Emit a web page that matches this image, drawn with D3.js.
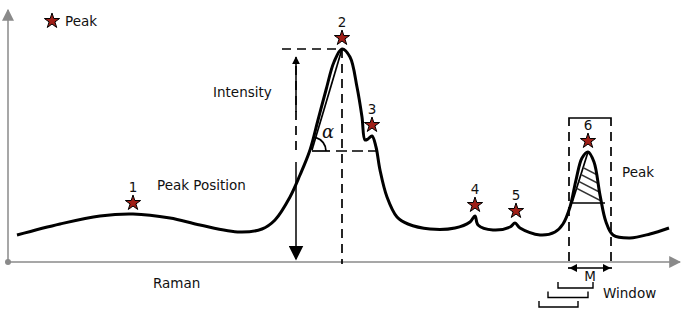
<!DOCTYPE html>
<html>
<head>
<meta charset="utf-8">
<script src="https://cdn.jsdelivr.net/npm/d3@7"></script>
<style>
  body { margin: 0; background: #fff; }
  text { font-family: "DejaVu Sans", sans-serif; font-size: 13.5px; fill: #111; }
</style>
</head>
<body>
<div id="chart"></div>
<script>
// spectrum trace: Raman shift (a.u.) vs intensity (a.u.)
const ramanShift = [9, 52, 92, 125, 162, 192, 232, 254, 267, 282, 292, 302, 310, 318, 326, 334, 342, 349, 354, 357, 360, 364, 368, 372, 379, 389, 400, 422, 447, 462, 467, 470, 485, 502, 507, 512, 532, 547, 555, 562, 568, 574, 580, 586, 592, 598, 605, 622, 642, 661];
const intensity  = [27, 38, 46, 48, 44, 37, 30, 33, 42, 65, 87, 112, 142, 172, 200, 213, 205, 175, 145, 122, 123, 126, 115, 92, 65, 45, 38, 33, 34, 40, 46, 37, 32, 35, 39, 34, 27, 30, 38, 55, 82, 104, 110, 100, 67, 40, 27, 24, 28, 34];

// detected peaks
const peakLabels = ["1", "2", "3", "4", "5", "6"];
const peakShift = [125, 334, 364, 467, 508, 580];
const peakIntensity = [48, 213, 126, 46, 40, 110];

// annotations (data units)
const tangentFoot = [304, 112];          // where the slope line meets the half-height level
const halfLevel = 111;
const windowPeak = [561, 603];           // dashed window around peak 6
const windowTop = 144;
const hatchBase = 59;
const hatchLeft = 564, hatchRight = 593;
const windowSteps = [[550, 585], [540, 580], [531, 570]];

const width = 685, height = 312;
const svg = d3.select("#chart").append("svg")
  .attr("width", width).attr("height", height);

const x = d3.scaleLinear().domain([0, 672]).range([8, 680]);
const y = d3.scaleLinear().domain([0, 250]).range([262, 12]);

const defs = svg.append("defs");
const marker = (id, size, color) => defs.append("marker")
  .attr("id", id).attr("viewBox", "0 0 10 10").attr("refX", 9).attr("refY", 5)
  .attr("markerWidth", size).attr("markerHeight", size).attr("orient", "auto-start-reverse")
  .attr("markerUnits", "userSpaceOnUse")
  .append("path").attr("d", "M0,0 L10,5 L0,10 Z").attr("fill", color);
marker("axisArrow", 12, "#8a8a8a");
marker("smallArrow", 8, "#000");
marker("bigArrow", 15, "#000");

// axes
svg.append("line")
  .attr("x1", x(0)).attr("y1", y(0)).attr("x2", x(672)).attr("y2", y(0))
  .attr("stroke", "#8a8a8a").attr("stroke-width", 1.5).attr("marker-end", "url(#axisArrow)");
svg.append("line")
  .attr("x1", x(0)).attr("y1", y(0)).attr("x2", x(0)).attr("y2", y(250) - 2)
  .attr("stroke", "#8a8a8a").attr("stroke-width", 1.5).attr("marker-end", "url(#axisArrow)");
svg.append("circle").attr("cx", x(0)).attr("cy", y(0)).attr("r", 3).attr("fill", "#8a8a8a");

const dash = "9,6";
const ann = svg.append("g").attr("fill", "none").attr("stroke", "#000").attr("stroke-width", 1.7);

// peak 2: intensity annotation
const p2 = [peakShift[1], peakIntensity[1]];
ann.append("line").attr("x1", x(274)).attr("x2", x(p2[0]))
  .attr("y1", y(p2[1])).attr("y2", y(p2[1])).attr("stroke-dasharray", dash);
ann.append("line").attr("x1", x(p2[0])).attr("x2", x(p2[0]))
  .attr("y1", y(p2[1])).attr("y2", y(0) + 2).attr("stroke-dasharray", dash);
ann.append("line").attr("x1", x(288)).attr("x2", x(288))
  .attr("y1", y(150)).attr("y2", y(205)).attr("stroke-width", 1.5).attr("marker-end", "url(#smallArrow)");
ann.append("line").attr("x1", x(288)).attr("x2", x(288))
  .attr("y1", y(196)).attr("y2", y(110)).attr("stroke-dasharray", dash);
ann.append("line").attr("x1", x(288)).attr("x2", x(288))
  .attr("y1", y(100)).attr("y2", y(3)).attr("stroke-width", 1.5).attr("marker-end", "url(#bigArrow)");

// slope (alpha) construction
ann.append("line").attr("x1", x(tangentFoot[0])).attr("y1", y(tangentFoot[1]))
  .attr("x2", x(p2[0])).attr("y2", y(p2[1]));
ann.append("line").attr("x1", x(tangentFoot[0])).attr("x2", x(322))
  .attr("y1", y(halfLevel)).attr("y2", y(halfLevel));
ann.append("line").attr("x1", x(328)).attr("x2", x(368))
  .attr("y1", y(halfLevel)).attr("y2", y(halfLevel)).attr("stroke-dasharray", "11,5");
const ang = Math.atan2(y(tangentFoot[1]) - y(p2[1]), x(p2[0]) - x(tangentFoot[0]));
ann.append("path")
  .attr("transform", `translate(${x(tangentFoot[0])},${y(halfLevel)})`)
  .attr("d", d3.arc().innerRadius(14).outerRadius(14)
    .startAngle(Math.PI / 2 - ang).endAngle(Math.PI / 2)());
svg.append("text").attr("x", x(tangentFoot[0]) + 10).attr("y", y(halfLevel) - 13)
  .style("font-family", "'DejaVu Serif', serif").style("font-style", "italic").style("font-size", "18px")
  .text("α");

// peak 6 window
ann.append("path").attr("d", `M${x(windowPeak[0])},${y(windowTop) + 8}V${y(windowTop)}H${x(windowPeak[1])}V${y(windowTop) + 8}`);
windowPeak.forEach(v => {
  ann.append("line").attr("x1", x(v)).attr("x2", x(v))
    .attr("y1", y(windowTop) + 14).attr("y2", y(0) + 7).attr("stroke-dasharray", dash);
});
ann.append("line").attr("x1", x(windowPeak[0]) + 1).attr("x2", x(windowPeak[1]) - 1)
  .attr("y1", y(0) + 6).attr("y2", y(0) + 6).attr("stroke-width", 1.3)
  .attr("marker-start", "url(#smallArrow)").attr("marker-end", "url(#smallArrow)");

// hatched triangle under peak 6
const p6 = [peakShift[5], peakIntensity[5]];
const rightSide = ramanShift.map((r, i) => [r, intensity[i]])
  .filter(d => d[0] > p6[0] && d[1] > hatchBase);
const hatchPoly = [[hatchLeft, hatchBase], p6, ...rightSide, [hatchRight, hatchBase]];
defs.append("clipPath").attr("id", "hatchClip").append("path")
  .attr("d", d3.line().x(d => x(d[0])).y(d => y(d[1]))(hatchPoly) + "Z");
const hatch = svg.append("g").attr("clip-path", "url(#hatchClip)");
d3.range(4).forEach(i => {
  const yy = y(hatchBase) - 9 - i * 8;
  hatch.append("line").attr("x1", x(hatchLeft)).attr("y1", yy - 8)
    .attr("x2", x(hatchRight) + 2).attr("y2", yy + 8)
    .attr("stroke", "#333").attr("stroke-width", 1.5);
});
ann.append("path").attr("d", `M${x(hatchRight) + 4},${y(hatchBase)}H${x(hatchLeft)}L${x(p6[0])},${y(p6[1])}`);

// sliding windows
ann.selectAll(".step").data(windowSteps).join("path")
  .attr("class", "step").attr("stroke-width", 1.4)
  .attr("d", (d, i) => {
    const yy = y(0) + 26 + i * 9.5;
    return `M${x(d[0])},${yy - 6}V${yy}H${x(d[1])}V${yy - 6}`;
  });

// spectrum curve
const line = d3.line().x(d => x(d[0])).y(d => y(d[1])).curve(d3.curveCatmullRom.alpha(0.5));
svg.append("path")
  .datum(ramanShift.map((r, i) => [r, intensity[i]]))
  .attr("d", line).attr("fill", "none").attr("stroke", "#000")
  .attr("stroke-width", 3).attr("stroke-linejoin", "round");

// peak stars + numbers
const star = d3.symbol().type(d3.symbolStar).size(72);
const peaks = peakLabels.map((l, i) => ({ label: l, x: peakShift[i], y: peakIntensity[i] }));
svg.selectAll(".star").data(peaks).join("path")
  .attr("class", "star")
  .attr("transform", d => `translate(${x(d.x)},${y(d.y) - 11})`)
  .attr("d", star).attr("fill", "#a01f17").attr("stroke", "#000").attr("stroke-width", 1);
svg.selectAll(".plabel").data(peaks).join("text")
  .attr("class", "plabel").attr("text-anchor", "middle")
  .attr("x", d => x(d.x)).attr("y", d => y(d.y) - 22)
  .text(d => d.label);

// legend
svg.append("path").attr("transform", "translate(52,21)").attr("d", star)
  .attr("fill", "#a01f17").attr("stroke", "#000").attr("stroke-width", 1);
svg.append("text").attr("x", 65).attr("y", 26).text("Peak");

// labels
svg.append("text").attr("x", 213).attr("y", 97).text("Intensity");
svg.append("text").attr("x", 157).attr("y", 190).text("Peak Position");
svg.append("text").attr("x", 153).attr("y", 288).text("Raman");
svg.append("text").attr("x", 622).attr("y", 177).text("Peak");
svg.append("text").attr("x", x((windowPeak[0] + windowPeak[1]) / 2)).attr("y", y(0) + 19)
  .attr("text-anchor", "middle").text("M");
svg.append("text").attr("x", 603).attr("y", 298).text("Window");
</script>
</body>
</html>
